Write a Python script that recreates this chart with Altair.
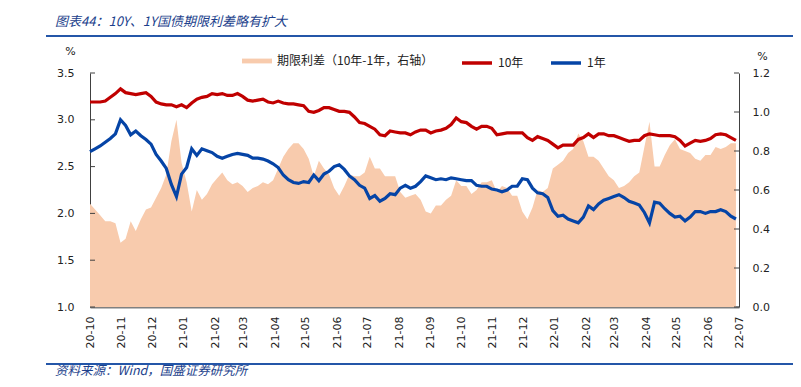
import altair as alt
import pandas as pd

# ---------------- data ----------------
start_date = "2020-10-01"
n_obs = 128
dates = pd.date_range(start_date, periods=n_obs, freq="5D").strftime("%Y-%m-%dT00:00:00").tolist()

# 10-year government bond yield (%)
y10 = [
    3.19, 3.19, 3.19, 3.20, 3.24, 3.28, 3.33, 3.29, 3.28, 3.27,
    3.28, 3.29, 3.25, 3.19, 3.17, 3.16, 3.16, 3.14, 3.16, 3.13,
    3.18, 3.22, 3.24, 3.25, 3.28, 3.27, 3.28, 3.26, 3.26, 3.28,
    3.25, 3.21, 3.20, 3.21, 3.22, 3.19, 3.18, 3.20, 3.18, 3.17,
    3.17, 3.16, 3.15, 3.09, 3.08, 3.10, 3.13, 3.13, 3.11, 3.09,
    3.09, 3.08, 3.03, 2.97, 2.96, 2.93, 2.90, 2.84, 2.83, 2.88,
    2.87, 2.86, 2.86, 2.84, 2.87, 2.89, 2.89, 2.86, 2.88, 2.89,
    2.91, 2.95, 3.02, 2.98, 2.97, 2.93, 2.90, 2.93, 2.93, 2.91,
    2.84, 2.85, 2.86, 2.86, 2.86, 2.86, 2.81, 2.78, 2.82, 2.80,
    2.78, 2.74, 2.70, 2.73, 2.73, 2.73, 2.79, 2.81, 2.85, 2.81,
    2.85, 2.85, 2.83, 2.83, 2.81, 2.79, 2.77, 2.78, 2.78, 2.83,
    2.85, 2.84, 2.83, 2.83, 2.83, 2.82, 2.78, 2.72, 2.75, 2.78,
    2.77, 2.78, 2.80, 2.84, 2.85, 2.84, 2.81, 2.78,
]

# 1-year government bond yield (%)
y1 = [
    2.66, 2.69, 2.72, 2.76, 2.80, 2.85, 3.00, 2.94, 2.84, 2.88,
    2.83, 2.79, 2.74, 2.63, 2.56, 2.48, 2.31, 2.18, 2.42, 2.49,
    2.69, 2.62, 2.69, 2.67, 2.65, 2.61, 2.59, 2.61, 2.63, 2.64,
    2.63, 2.62, 2.59, 2.59, 2.58, 2.56, 2.53, 2.49, 2.41, 2.36,
    2.33, 2.32, 2.34, 2.33, 2.41, 2.35, 2.42, 2.45, 2.50, 2.52,
    2.47, 2.40, 2.36, 2.30, 2.27, 2.16, 2.19, 2.13, 2.16, 2.21,
    2.20, 2.27, 2.30, 2.27, 2.29, 2.34, 2.40, 2.38, 2.36, 2.37,
    2.36, 2.38, 2.37, 2.36, 2.35, 2.35, 2.30, 2.29, 2.29, 2.26,
    2.25, 2.23, 2.25, 2.29, 2.29, 2.37, 2.36, 2.27, 2.22, 2.21,
    2.17, 2.03, 1.97, 1.98, 1.94, 1.92, 1.90, 1.96, 2.08, 2.04,
    2.10, 2.14, 2.16, 2.18, 2.20, 2.17, 2.13, 2.11, 2.09, 2.01,
    1.90, 2.12, 2.11, 2.05, 2.00, 1.96, 1.97, 1.92, 1.96, 2.02,
    2.02, 2.00, 2.02, 2.02, 2.04, 2.02, 1.97, 1.94,
]

series_names = ["10年", "1年"]
spread_name = "期限利差（10年-1年，右轴）"
left_ticks = [1.0, 1.5, 2.0, 2.5, 3.0, 3.5]
right_ticks = [0.0, 0.2, 0.4, 0.6, 0.8, 1.0, 1.2]
month_ticks = [(2020, m) for m in (10, 11, 12)] + [(2021, m) for m in range(1, 13)] + [(2022, m) for m in range(1, 8)]

title_text = "图表44：10Y、1Y国债期限利差略有扩大"
source_text = "资料来源：Wind，国盛证券研究所"

# ---------------- tables ----------------
df = pd.DataFrame({"date": dates, "10年": y10, "1年": y1})
df["spread"] = (df["10年"] - df["1年"]).round(3)
df["spread_label"] = spread_name
long_df = df.melt(id_vars="date", value_vars=series_names, var_name="series", value_name="rate")

CJK = "Noto Sans CJK SC"
LAT = "DejaVu Sans"
RED = "#C00000"
BLUE = "#0544A6"
PEACH = "#F8CBAD"
NAVY = "#1C3F8C"

x_domain = [alt.DateTime(year=2020, month=10, date=1), alt.DateTime(year=2022, month=7, date=1)]
x_values = [alt.DateTime(year=y, month=m, date=1) for y, m in month_ticks]

x_enc = alt.X(
    "date:T",
    title=None,
    scale=alt.Scale(domain=x_domain),
    axis=alt.Axis(
        values=x_values, format="%y-%m", labelAngle=270, labelPadding=9,
        tickSize=0, ticks=False, domainColor="#808080", domainWidth=2,
        labelOverlap=False, labelFlush=False, labelFontSize=11,
    ),
)

area = alt.Chart(df).mark_area(interpolate="linear", opacity=1).encode(
    x=x_enc,
    y=alt.Y(
        "spread:Q", title="%",
        scale=alt.Scale(domain=[0, 1.2], nice=False, zero=True),
        axis=alt.Axis(
            orient="right", values=right_ticks, format=".1f", tickSize=0, ticks=False,
            labelPadding=13, domainColor="#404040", labelOverlap=False,
            titleAngle=0, titleX=23, titleY=-17, titleAlign="center", titleBaseline="middle",
        ),
    ),
    fill=alt.Fill(
        "spread_label:N",
        scale=alt.Scale(domain=[spread_name], range=[PEACH]),
        legend=alt.Legend(
            title=None, orient="none", legendX=152, legendY=-27, direction="horizontal",
            symbolType="M-1,-0.16L1,-0.16L1,0.16L-1,0.16Z", symbolSize=900, symbolStrokeWidth=0,
            labelFont=CJK, labelFontSize=12, labelOffset=5, labelColor="#222222", padding=0,
        ),
    ),
)

lines = alt.Chart(long_df).mark_line(strokeWidth=3.2, interpolate="linear").encode(
    x=x_enc,
    y=alt.Y(
        "rate:Q", title="%",
        scale=alt.Scale(domain=[1.0, 3.5], nice=False, zero=False),
        axis=alt.Axis(
            orient="left", values=left_ticks, format=".1f", tickSize=0, ticks=False,
            labelPadding=16, domainColor="#404040", labelOverlap=False,
            titleAngle=0, titleX=-20, titleY=-22, titleAlign="center", titleBaseline="middle",
        ),
    ),
    stroke=alt.Stroke(
        "series:N",
        scale=alt.Scale(domain=series_names, range=[RED, BLUE]),
        legend=alt.Legend(
            title=None, orient="none", legendX=370, legendY=-27, direction="horizontal",
            symbolType="stroke", symbolSize=900, symbolStrokeWidth=3.5,
            labelFont=CJK, labelFontSize=12, labelOffset=4, labelColor="#222222",
            columnPadding=20, padding=0,
        ),
    ),
)

lt = alt.Chart(pd.DataFrame({"v": left_ticks})).mark_rule(color="#404040", strokeWidth=1).encode(
    y=alt.Y("v:Q", scale=alt.Scale(domain=[1.0, 3.5], nice=False, zero=False), axis=None),
    x=alt.value(0), x2=alt.value(5),
)
rt = alt.Chart(pd.DataFrame({"v": right_ticks})).mark_rule(color="#404040", strokeWidth=1).encode(
    y=alt.Y("v:Q", scale=alt.Scale(domain=[0, 1.2], nice=False, zero=True), axis=None),
    x=alt.value(644), x2=alt.value(649),
)

one = pd.DataFrame({"k": [0]})
title_mark = alt.Chart(one).mark_text(
    text=title_text, align="left", baseline="middle", font=CJK, fontSize=13,
    fontStyle="italic", color=NAVY,
).encode(x=alt.value(-35), y=alt.value(-51))
top_rule = alt.Chart(one).mark_rule(color="#2456A8", strokeWidth=2).encode(
    x=alt.value(-44), x2=alt.value(703), y=alt.value(-37)
)
bottom_rule = alt.Chart(one).mark_rule(color="#2456A8", strokeWidth=2).encode(
    x=alt.value(-44), x2=alt.value(703), y=alt.value(291)
)
source_mark = alt.Chart(one).mark_text(
    text=source_text, align="left", baseline="middle", font=CJK, fontSize=12.5,
    fontStyle="italic", color=NAVY,
).encode(x=alt.value(-35), y=alt.value(298))

chart = (
    alt.layer(area, lines, lt, rt, title_mark, top_rule, bottom_rule, source_mark)
    .resolve_scale(y="independent")
    .properties(
        width=649, height=234,
        padding={"left": 82, "top": 65, "right": 54, "bottom": 72},
        autosize=alt.AutoSizeParams(type="none"),
    )
    .configure_view(stroke=None)
    .configure_axis(
        labelFont=LAT, labelFontSize=11, labelColor="#222222",
        titleFont=LAT, titleFontSize=11, titleFontWeight="normal", titleColor="#222222",
        grid=False,
    )
)

chart.save("out.html", embed_options={"renderer": "svg", "actions": False})
